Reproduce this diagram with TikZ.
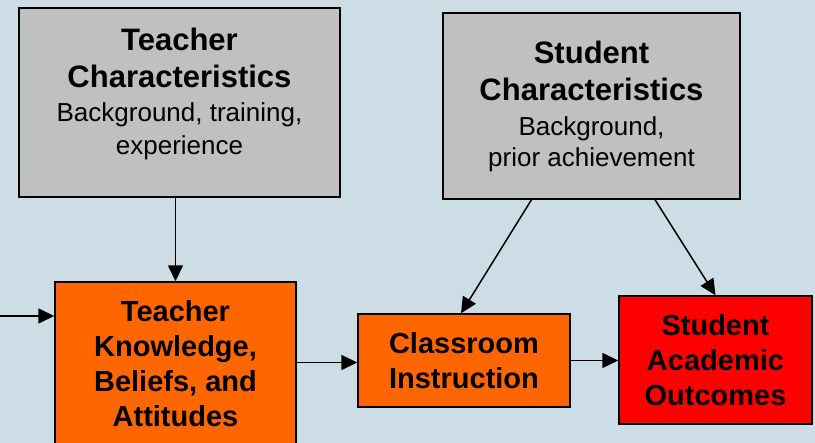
\documentclass[tikz,border=0pt]{standalone}
\usepackage{fontspec}
\setmainfont{Liberation Sans}
\usetikzlibrary{arrows.meta}
\definecolor{bgblue}{RGB}{204,221,229}
\definecolor{boxgray}{RGB}{192,192,192}
\definecolor{boxorange}{RGB}{255,102,0}
\definecolor{boxred}{RGB}{255,0,0}
\newcommand{\headfont}{\fontsize{31pt}{37pt}\selectfont\bfseries}
\newcommand{\boxfont}{\fontsize{29pt}{35pt}\selectfont\bfseries}
\newcommand{\notefont}{\fontsize{26pt}{33pt}\selectfont\mdseries}
\begin{document}
\begin{tikzpicture}[x=1pt,y=-1pt]
    \tikzstyle{every node}+=[inner sep=0pt]
    \tikzstyle{box}=[draw=black, line width=1.4pt, align=center]
    \tikzstyle{link}=[black, line width=1.5pt, -{Triangle[length=16pt,width=15pt]}]
    \fill [bgblue] (0,0) rectangle (815,443);
    \useasboundingbox (0,0) rectangle (815,443);
    % upper boxes
    \node [box, fill=boxgray, font=\headfont, minimum width=321pt, minimum height=189pt] (tc) at (179.5,102.5)
        {Teacher\\ Characteristics\\[-3pt] {\notefont Background, training,}\\[-4pt] {\notefont experience}\\[-14pt]};
    \node [box, fill=boxgray, font=\headfont, minimum width=297pt, minimum height=186pt] (sc) at (591.5,106)
        {Student\\ Characteristics\\[-2pt] {\notefont Background,}\\[-6pt] {\notefont prior achievement}};
    % lower boxes
    \node [box, fill=boxorange, font=\boxfont, minimum width=241pt, minimum height=164pt] (tk) at (175.5,364)
        {Teacher\\ Knowledge,\\ Beliefs, and\\ Attitudes};
    \node [box, fill=boxorange, font=\boxfont, minimum width=212pt, minimum height=93pt] (ci) at (464,360.5)
        {Classroom\\ Instruction};
    \node [box, fill=boxred, font=\boxfont, minimum width=193pt, minimum height=128pt] (sao) at (715.5,360)
        {Student\\ Academic\\ Outcomes};
    % connectors
    \coordinate (in) at (0,316);
    \draw [link] (in) -- (in -| tk.west);
    \draw [link] (tc.south -| tk.north) -- (tk.north);
    \draw [link] ([yshift=-2pt]ci.west -| tk.east) -- ([yshift=-2pt]ci.west);
    \draw [link] (ci.east) -- (ci.east -| sao.west);
    \draw [link] ([xshift=-60pt]sc.south) -- ([xshift=-3pt]ci.north);
    \draw [link] ([xshift=63.5pt]sc.south) -- (sao.north);
\end{tikzpicture}
\end{document}
